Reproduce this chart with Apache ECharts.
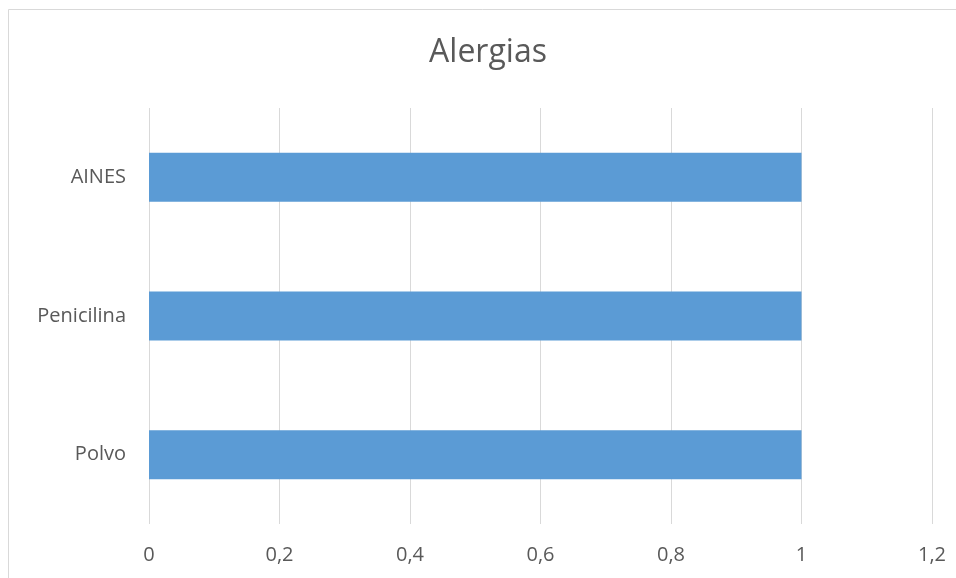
<!DOCTYPE html>
<html><head><meta charset="utf-8">
<script src="https://cdn.jsdelivr.net/npm/echarts@6/dist/echarts.min.js"></script>
<style>html,body{margin:0;padding:0;background:#fff}#c{width:956px;height:578px}</style>
</head><body><div id="c"></div>
<script>
const categories = ['Polvo', 'Penicilina', 'AINES'];
const values = [1, 1, 1];
const titleText = 'Alergias';

const chart = echarts.init(document.getElementById('c'));
chart.setOption({
  animation: false,
  backgroundColor: '#fff',
  title: {
    text: titleText, left: 488, top: 53, textAlign: 'center', textVerticalAlign: 'middle', padding: 0,
    textStyle: { fontFamily: 'Open Sans', fontSize: 32, fontWeight: 'normal', color: '#595959' }
  },
  graphic: [{
    type: 'rect', shape: { x: 8.5, y: 9.5, width: 960, height: 600 },
    style: { fill: 'none', stroke: '#d9d9d9', lineWidth: 1 }, silent: true
  }],
  grid: { left: 149, right: 24, top: 108, bottom: 54, containLabel: false },
  xAxis: {
    type: 'value', min: 0, max: 1.2, interval: 0.2,
    axisLine: { show: false }, axisTick: { show: false },
    splitLine: { lineStyle: { color: '#d9d9d9', width: 1 } },
    axisLabel: {
      margin: 21, color: '#595959', fontFamily: 'Open Sans', fontSize: 20,
      formatter: v => String(Math.round(v * 10) / 10).replace('.', ',')
    }
  },
  yAxis: {
    type: 'category', data: categories,
    axisLine: { show: false }, axisTick: { show: false },
    axisLabel: { margin: 23, color: '#595959', fontFamily: 'Open Sans', fontSize: 20 }
  },
  series: [{
    type: 'bar', data: values, barWidth: 49,
    itemStyle: { color: '#5b9bd5' }
  }]
});
</script></body></html>
